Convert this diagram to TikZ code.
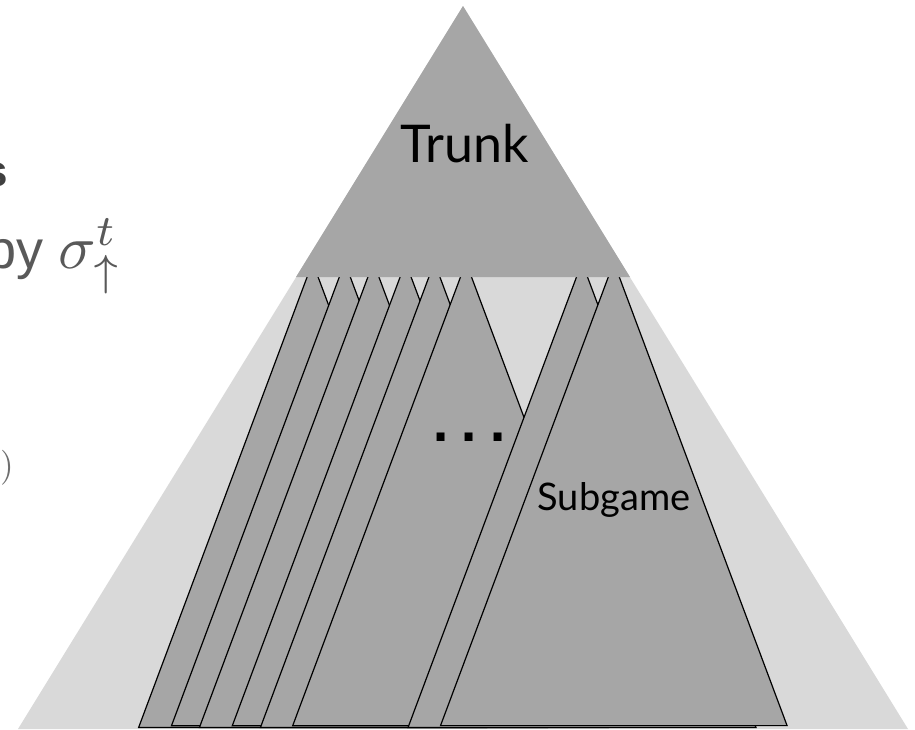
\documentclass[tikz,border=0pt]{standalone}
\usepackage{graphicx}
\usepackage{fontspec}
\newfontfamily\gillfont{Lato}
\newfontfamily\slidefont{Liberation Sans}
\newfontfamily\dotfont{DejaVu Sans}
\definecolor{lightgame}{HTML}{D9D9D9}
\definecolor{darkgame}{HTML}{A6A6A6}
\definecolor{slidetext}{HTML}{595959}
\definecolor{slidedark}{HTML}{404040}
\definecolor{slidelight}{HTML}{6E6E6E}
\newcommand{\bigmath}[2]{\scalebox{#1}{\fontsize{10}{12}\selectfont$#2$}}
\begin{document}
\begin{tikzpicture}[x=1pt,y=-1pt,
  subtree/.style={fill=darkgame,draw=black,line width=1.2pt,line join=miter},
  label/.style={inner sep=0pt,anchor=base,text=black}]
\useasboundingbox (0,0) rectangle (915,729);
\clip (0,0) rectangle (915,729);
% whole game tree
\fill[lightgame] (463,6) -- (18,729) -- (908,729) -- cycle;
% subgames
\foreach \c/\b in {312.6/727.4, 344.8/725.8, 373.4/727.4, 405.6/725.8, 434.4/727.4, 466/725.8, 582/727.4, 613.8/725.6}{
  \draw[subtree] (\c,262.3) -- ({\c-0.374*(\b-262.3)},\b) -- ({\c+0.374*(\b-262.3)},\b) -- cycle;
}
% trunk
\fill[darkgame] (463,6) -- (296,277) -- (630,277) -- cycle;
\node[label,font=\gillfont\fontsize{52}{62}\selectfont] (trunk) at (464.5,162) {Trunk};
\node[label,font=\gillfont\fontsize{38}{46}\selectfont] (subgame) at (614,510) {Subgame};
\node[label,font=\dotfont\bfseries\fontsize{45}{54}\selectfont] (dots) at (469.5,441) {.\hspace{11.5pt}.\hspace{11.5pt}.};
% clipped slide text on the left
\node[inner sep=0pt,anchor=base east,text=slidedark,font=\slidefont\bfseries\fontsize{44}{52}\selectfont] (s) at (8,186) {s};
\node[inner sep=0pt,anchor=base west,text=slidetext,font=\slidefont\fontsize{54}{64}\selectfont] (by) at (-14,268) {by \bigmath{6.2}{\sigma_\uparrow^t}};
\node[inner sep=0pt,anchor=base east,text=slidelight] (paren) at (14,476) {\bigmath{3.5}{)}};
\end{tikzpicture}
\end{document}
